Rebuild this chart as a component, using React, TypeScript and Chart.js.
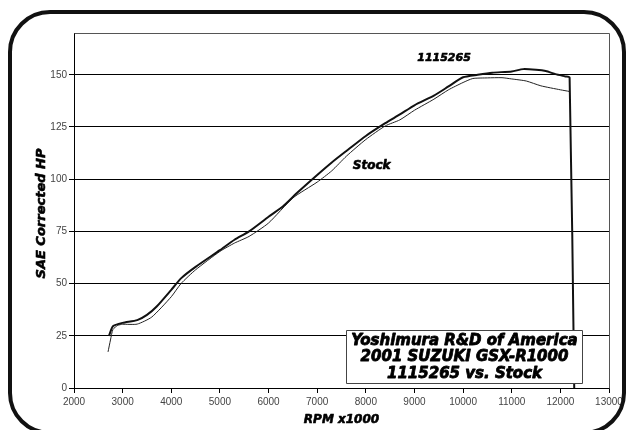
import React, { useEffect, useRef } from "react";
import { Chart, registerables } from "chart.js";

Chart.register(...registerables);

// ---- data ----
const rpmTuned = [2720, 2800, 3000, 3300, 3500, 3700, 4000, 4200, 4500, 5000, 5300, 5600, 6000, 6300, 6600, 7000, 7300, 7600, 8000, 8400, 8700, 9000, 9400, 9700, 10000, 10300, 10600, 11000, 11235, 11500, 11700, 11900, 12100, 12190, 12285];
const hpTuned = [25, 29.6, 31.2, 32.5, 35, 39, 47, 52.5, 58, 66, 71, 75, 82, 87, 93.7, 102, 108, 113.5, 120.7, 126.8, 131, 135.4, 140, 144.4, 148.8, 150, 151, 151.6, 152.7, 152.4, 151.8, 150.3, 149.2, 148.7, 0];
const rpmStock = [2700, 2750, 2800, 2900, 3000, 3300, 3600, 4000, 4200, 4500, 5000, 5300, 5600, 6000, 6500, 7000, 7300, 7600, 8000, 8400, 8700, 9000, 9400, 9700, 10000, 10200, 10500, 10800, 11000, 11300, 11600, 12000, 12190];
const hpStock = [17.3, 23, 28, 30, 30.5, 30.6, 34, 43.7, 50, 56.6, 65.4, 69.4, 72.6, 79, 91, 98.6, 104, 111, 119, 125.5, 128.4, 133, 138.3, 142.8, 146.3, 148.2, 148.5, 148.6, 148, 147, 144.7, 142.8, 142];

const seriesNames = ["1115265", "Stock"];
const xTitle = "RPM x1000";
const yTitle = "SAE Corrected HP";
const boxLines = ["Yoshimura R&D of America", "2001 SUZUKI GSX-R1000", "1115265 vs. Stock"];

const HEAVY = "DejaVu Sans";

function heavyText(ctx: any, t: string, x: number, y: number, size: number, sw: number) {
  ctx.font = `italic bold ${size}px "${HEAVY}"`;
  ctx.lineWidth = sw;
  ctx.lineJoin = "round";
  ctx.strokeStyle = "#000";
  ctx.fillStyle = "#000";
  ctx.fillText(t, x, y);
  ctx.strokeText(t, x, y);
}

const labelsPlugin = {
  id: "dynoLabels",
  afterDatasetsDraw(chart: any) {
    const { ctx, chartArea, scales } = chart;
    const x = scales.x;
    const y = scales.y;
    ctx.save();
    // plot border top/right
    ctx.strokeStyle = "#555";
    ctx.lineWidth = 1;
    ctx.beginPath();
    ctx.moveTo(Math.round(chartArea.left) + 0.5, Math.round(chartArea.top) + 0.5);
    ctx.lineTo(Math.round(chartArea.right) + 0.5, Math.round(chartArea.top) + 0.5);
    ctx.lineTo(Math.round(chartArea.right) + 0.5, Math.round(chartArea.bottom) + 0.5);
    ctx.stroke();

    ctx.textAlign = "center";
    ctx.textBaseline = "middle";
    // series labels
    heavyText(ctx, seriesNames[0], x.getPixelForValue(9608), y.getPixelForValue(158), 11, 0.6);
    heavyText(ctx, seriesNames[1], x.getPixelForValue(8120), y.getPixelForValue(106.6), 12, 0.6);

    // axis titles
    heavyText(ctx, xTitle, (chartArea.left + chartArea.right) / 2, 420, 12, 0.6);
    ctx.save();
    ctx.translate(42, (chartArea.top + chartArea.bottom) / 2 + 3);
    ctx.rotate(-Math.PI / 2);
    heavyText(ctx, yTitle, 0, 0, 13, 0.6);
    ctx.restore();

    // annotation box
    const bx = x.getPixelForValue(7600);
    const bx2 = x.getPixelForValue(12460);
    const by = y.getPixelForValue(28);
    const by2 = y.getPixelForValue(2.6);
    const left = Math.round(bx) + 0.5;
    const top = Math.round(by) + 0.5;
    const w = Math.round(bx2 - bx);
    const h = Math.round(by2 - by);
    ctx.fillStyle = "#fff";
    ctx.fillRect(left, top, w, h);
    ctx.strokeStyle = "#444";
    ctx.lineWidth = 1;
    ctx.strokeRect(left, top, w, h);
    const cx = left + w / 2;
    boxLines.forEach((t, i) => {
      heavyText(ctx, t, cx, top + 10.5 + i * 16.5, 15, 0.8);
    });
    ctx.restore();
  },
};

export default function App() {
  const ref = useRef<HTMLCanvasElement | null>(null);
  useEffect(() => {
    if (!ref.current) return;
    const chart = new Chart(ref.current, {
      type: "line",
      data: {
        datasets: [
          {
            label: seriesNames[0],
            data: rpmTuned.map((r, i) => ({ x: r, y: hpTuned[i] })),
            borderColor: "#111",
            borderWidth: 2,
            pointRadius: 0,
            tension: 0.2,
            fill: false,
          },
          {
            label: seriesNames[1],
            data: rpmStock.map((r, i) => ({ x: r, y: hpStock[i] })),
            borderColor: "#222",
            borderWidth: 1,
            pointRadius: 0,
            tension: 0.2,
            fill: false,
          },
        ],
      },
      options: {
        responsive: false,
        animation: false,
        layout: { padding: { left: 0, top: 33, right: 18, bottom: 0 } },
        plugins: { legend: { display: false }, tooltip: { enabled: false } },
        scales: {
          x: {
            type: "linear",
            min: 2000,
            max: 13000,
            afterFit: (s: any) => { s.height = 42; },
            ticks: {
              stepSize: 1000,
              color: "#444",
              padding: 3,
              maxRotation: 0,
              callback: (v: any) => String(v),
              font: { family: "Liberation Sans Narrow, Liberation Sans", size: 10 },
            },
            grid: { display: true, drawOnChartArea: false, color: "#000", tickLength: 5 },
            border: { display: true, color: "#000" },
            title: { display: false },
          },
          y: {
            type: "linear",
            min: 0,
            max: 170,
            afterFit: (s: any) => { s.width = 74; },
            afterBuildTicks: (s: any) => {
              s.ticks = s.ticks.filter((t: any) => t.value % 25 === 0);
            },
            ticks: {
              stepSize: 25,
              color: "#444",
              padding: 2,
              callback: (v: any) => String(v),
              font: { family: "Liberation Sans Narrow, Liberation Sans", size: 10 },
            },
            grid: { color: "#000", tickLength: 5, lineWidth: 1 },
            border: { display: true, color: "#000" },
            title: { display: false },
          },
        },
      },
      plugins: [labelsPlugin],
    });
    return () => chart.destroy();
  }, []);

  return (
    <div style={{ position: "fixed", left: 0, top: 0, width: 627, height: 430, overflow: "hidden", background: "#fff" }}>
      <canvas ref={ref} width={627} height={430} style={{ position: "absolute", left: 0, top: 0 }} />
      <div
        style={{
          position: "absolute",
          left: 8,
          top: 10,
          width: 610,
          height: 417,
          border: "4px solid #111",
          borderRadius: 42,
          pointerEvents: "none",
        }}
      />
    </div>
  );
}
